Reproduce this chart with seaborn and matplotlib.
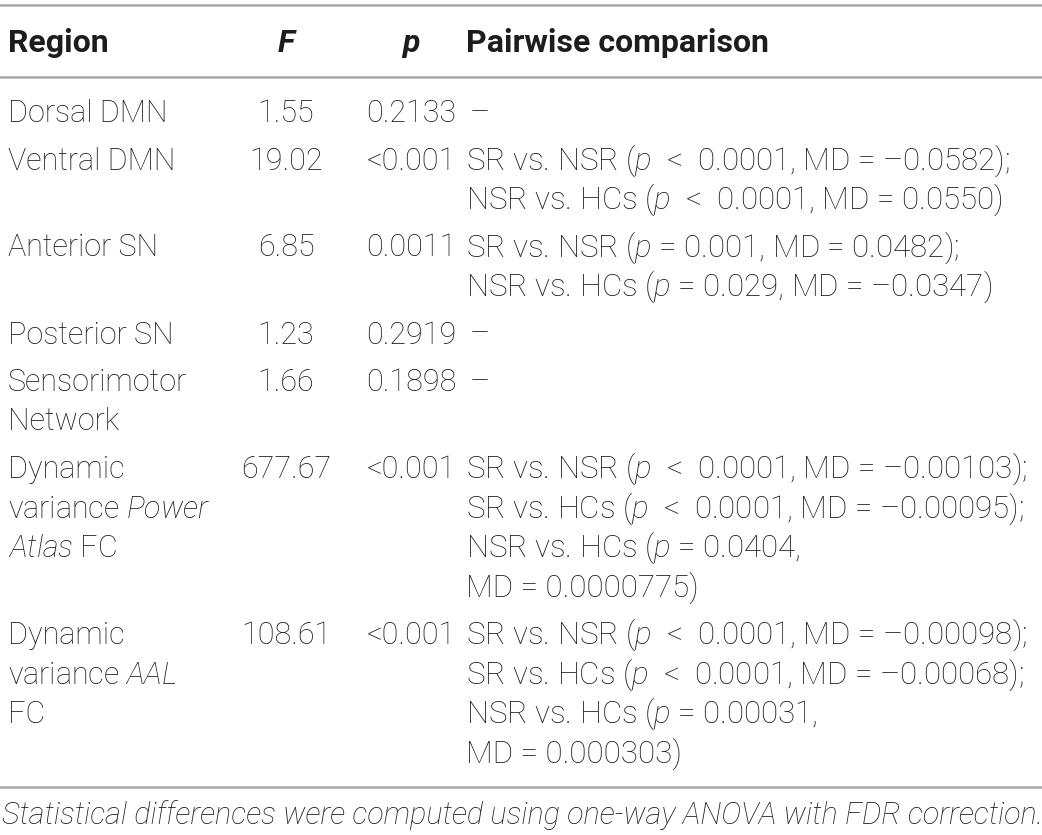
import matplotlib
matplotlib.use("Agg")
import matplotlib.pyplot as plt
import seaborn as sns

# Table content
header = ["Region", "F", "p", "Pairwise comparison"]
regions = [
    ["Dorsal DMN"],
    ["Ventral DMN"],
    ["Anterior SN"],
    ["Posterior SN"],
    ["Sensorimotor", "Network"],
    ["Dynamic", "variance $Power$", "$Atlas$ FC"],
    ["Dynamic", "variance $AAL$", "FC"],
]
f_values = [1.55, 19.02, 6.85, 1.23, 1.66, 677.67, 108.61]
p_values = ["0.2133", "<0.001", "0.0011", "0.2919", "0.1898", "<0.001", "<0.001"]
pairwise = [
    ["–"],
    ["SR vs. NSR ($p$  <  0.0001, MD = –0.0582);",
     "NSR vs. HCs ($p$  <  0.0001, MD = 0.0550)"],
    ["SR vs. NSR ($p$ = 0.001, MD = 0.0482);",
     "NSR vs. HCs ($p$ = 0.029, MD = –0.0347)"],
    ["–"],
    ["–"],
    ["SR vs. NSR ($p$  <  0.0001, MD = –0.00103);",
     "SR vs. HCs ($p$  <  0.0001, MD = –0.00095);",
     "NSR vs. HCs ($p$ = 0.0404,",
     "MD = 0.0000775)"],
    ["SR vs. NSR ($p$  <  0.0001, MD = –0.00098);",
     "SR vs. HCs ($p$  <  0.0001, MD = –0.00068);",
     "NSR vs. HCs ($p$ = 0.00031,",
     "MD = 0.000303)"],
]
caption = "Statistical differences were computed using one-way ANOVA with FDR correction."

sns.set_theme(style="white")
plt.rcParams["font.family"] = ["Roboto", "DejaVu Sans"]
plt.rcParams["mathtext.fontset"] = "custom"
plt.rcParams["mathtext.it"] = "Roboto:italic:light"
plt.rcParams["mathtext.rm"] = "Roboto:light"

txt = "#1e1c1d"
rule = "#a7a9ac"
fs = 22
fs_head = 23
fs_pair = 22.5

fig = plt.figure(figsize=(10.42, 8.35), dpi=100)
ax = fig.add_axes([0, 0, 1, 1])
ax.set_xlim(0, 1042)
ax.set_ylim(835, 0)
ax.axis("off")

x_region, x_f, x_p, x_pair = 8, 286, 411, 466

# rules
for y in (5, 77, 787):
    ax.axhline(y, color=rule, lw=1.8)

# header
ax.text(x_region, 52, header[0], fontsize=fs_head, fontweight="bold", color=txt, va="baseline")
ax.text(x_f, 52, header[1], fontsize=fs_head, fontweight="bold", fontstyle="italic",
        color=txt, va="baseline", ha="center")
ax.text(x_p, 52, header[2], fontsize=fs_head, fontweight="bold", fontstyle="italic",
        color=txt, va="baseline", ha="center")
ax.text(x_pair, 52, header[3], fontsize=fs_head, fontweight="bold", color=txt, va="baseline")

# body
line_h = 39.5
pad = 8
y = 122
for reg, f, p, pw in zip(regions, f_values, p_values, pairwise):
    for i, s in enumerate(reg):
        ax.text(x_region, y + i * line_h, s, fontsize=fs, fontweight="light",
                color=txt, va="baseline")
    ax.text(x_f, y, f"{f:.2f}", fontsize=fs, fontweight="light", color=txt,
            va="baseline", ha="center")
    ax.text(x_p, y, p, fontsize=fs, fontweight="light", color=txt,
            va="baseline", ha="center")
    for i, s in enumerate(pw):
        ax.text(x_pair + (4 if s == "–" else 0), y + i * line_h, s, fontsize=fs_pair,
                fontweight="light", color=txt, va="baseline")
    y += max(len(reg), len(pw)) * line_h + pad

ax.text(2, 824, caption, fontsize=fs, fontweight="light", fontstyle="italic",
        color=txt, va="baseline")

fig.savefig("out.png", dpi=100)
